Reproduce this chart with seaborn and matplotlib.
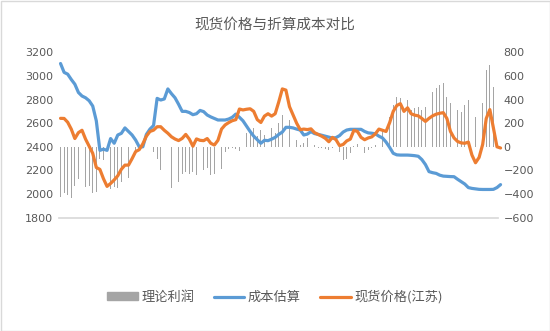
import numpy as np
import pandas as pd
import matplotlib
matplotlib.use("Agg")
import matplotlib.pyplot as plt
import matplotlib.dates as mdates
from matplotlib.patches import Rectangle
from matplotlib.lines import Line2D
import seaborn as sns

# Weekly series
start_date = "2023-03-17"
cost_estimate = [
    3105, 3030, 3015, 2970, 2930, 2860, 2830, 2815, 2790, 2745,
    2620, 2370, 2380, 2370, 2470, 2430, 2500, 2514, 2560, 2530,
    2500, 2457, 2400, 2400, 2505, 2550, 2580, 2810, 2796, 2805,
    2890, 2850, 2815, 2760, 2700, 2700, 2690, 2672, 2680, 2708,
    2698, 2669, 2653, 2640, 2627, 2627, 2627, 2635, 2650, 2677,
    2650, 2620, 2575, 2530, 2490, 2460, 2430, 2455, 2452, 2465,
    2480, 2505, 2525, 2565, 2565, 2560, 2550, 2542, 2500, 2508,
    2528, 2512, 2505, 2498, 2490, 2482, 2474, 2478, 2495, 2525,
    2542, 2548, 2548, 2548, 2548, 2530, 2518, 2515, 2510, 2490,
    2475, 2440, 2395, 2345, 2332, 2330, 2330, 2330, 2328, 2325,
    2320, 2292, 2250, 2190, 2181, 2175, 2160, 2152, 2150, 2148,
    2147, 2125, 2105, 2085, 2055, 2048, 2044, 2040, 2039, 2039,
    2039, 2040, 2055, 2080,
]
spot_price = [
    2641, 2640, 2608, 2550, 2470, 2520, 2540, 2465, 2405, 2345,
    2225, 2209, 2130, 2065, 2090, 2120, 2155, 2210, 2245, 2245,
    2300, 2360, 2376, 2425, 2490, 2530, 2541, 2570, 2570, 2540,
    2515, 2485, 2466, 2453, 2471, 2505, 2465, 2405, 2467, 2455,
    2452, 2470, 2430, 2415, 2455, 2550, 2585, 2605, 2621, 2630,
    2720, 2712, 2718, 2722, 2700, 2630, 2606, 2660, 2680, 2660,
    2680, 2780, 2890, 2880, 2740, 2670, 2600, 2545, 2550, 2546,
    2552, 2520, 2505, 2490, 2472, 2443, 2480, 2460, 2410, 2420,
    2450, 2465, 2540, 2530, 2480, 2460, 2475, 2484, 2510, 2550,
    2540, 2530, 2605, 2700, 2750, 2765, 2700, 2730, 2680, 2668,
    2662, 2640, 2615, 2641, 2662, 2676, 2684, 2689, 2640, 2530,
    2475, 2445, 2433, 2430, 2440, 2330, 2265, 2310, 2420, 2640,
    2715, 2560, 2400, 2390,
]
theory_profit = [
    -423, -395, -409, -437, -330, -270, -367, -340, -330, -395,
    -381, -100, -113, -290, -353, -339, -350, -300, -310, -268,
    -200, -56, -28, -6, 0, 0, -40, -99, -198, 0,
    0, -345, -320, -300, -230, -212, -230, -210, -240, -210,
    -198, -180, -240, -230, -190, -184, -45, -20, -8, -20,
    -37, 75, 113, 141, 160, 95, 141, 100, 130, 160,
    120, 200, 268, 282, 226, 155, 56, 14, 30, 71,
    50, 14, -6, -14, -20, -28, -14, 14, -42, -113,
    -99, -56, 10, 28, -14, -56, -28, -14, 14, 42,
    141, 169, 254, 353, 423, 409, 310, 400, 310, 325,
    339, 310, 339, 423, 466, 494, 522, 536, 423, 367,
    310, 310, 296, 353, 400, 296, 254, 282, 367, 649,
    692, 508, 339, 310,
]

title_text = "现货价格与折算成本对比"
series_names = ["理论利润", "成本估算", "现货价格(江苏)"]
left_ticks = [1800, 2000, 2200, 2400, 2600, 2800, 3000, 3200]
right_ticks = [-600, -400, -200, 0, 200, 400, 600, 800]
x_tick_dates = ["2023-03-14", "2023-06-14", "2023-09-14", "2023-12-14",
                "2024-03-14", "2024-06-14", "2024-09-14", "2024-12-14",
                "2025-03-14", "2025-06-14"]

dates = pd.date_range(start_date, periods=len(cost_estimate), freq="7D")
df = pd.DataFrame({
    "date": dates,
    "cost": cost_estimate,
    "spot": spot_price,
    "profit": theory_profit,
})

sns.set_theme(style="white")
plt.rcParams["font.family"] = ["DejaVu Sans", "Noto Sans CJK SC"]

text_color = "#595959"
grey_bar = "#a5a5a5"
blue = "#5b9bd5"
orange = "#ed7d31"

fig = plt.figure(figsize=(5.5, 3.31), dpi=100)
fig.patch.set_facecolor("white")
ax_bar = fig.add_axes([59 / 550, 1 - 217.7 / 331, (498 - 59) / 550, (217.7 - 52.3) / 331])
ax_line = ax_bar.twinx()

# Profit bars on the secondary (right) scale, drawn underneath the lines
ax_bar.bar(df["date"], df["profit"], width=1.6, color=grey_bar, linewidth=0)
ax_bar.set_ylim(-600, 800)
ax_bar.set_yticks(right_ticks)
ax_bar.yaxis.tick_right()
ax_bar.yaxis.set_label_position("right")

# Price lines on the primary (left) scale
sns.lineplot(data=df, x="date", y="cost", ax=ax_line, color=blue, linewidth=2.3)
sns.lineplot(data=df, x="date", y="spot", ax=ax_line, color=orange, linewidth=2.3)
for ln in ax_line.lines:
    ln.set_clip_on(False)
ax_line.set_ylim(1800, 3200)
ax_line.set_yticks(left_ticks)
ax_line.yaxis.tick_left()
ax_line.yaxis.set_label_position("left")
ax_line.set_ylabel("")
ax_line.set_xlabel("")

xt = pd.to_datetime(x_tick_dates)
for a in (ax_bar, ax_line):
    a.set_xlim(pd.Timestamp("2023-03-14"), pd.Timestamp("2025-07-20"))
    for s in a.spines.values():
        s.set_visible(False)
    a.grid(False)
    a.tick_params(axis="y", length=0, labelsize=8, colors=text_color, pad=4)
ax_line.spines["bottom"].set_visible(True)
ax_line.spines["bottom"].set_color("#d9d9d9")
ax_line.set_xticks(xt)
ax_line.set_xticklabels([f"{d.year}/{d.month}/{d.day}" for d in xt],
                        rotation=45, ha="right", rotation_mode="anchor")
ax_line.tick_params(axis="x", length=4, labelsize=8, pad=3,
                    direction="out", bottom=True, colors="#d9d9d9")
for lbl in ax_line.get_xticklabels():
    lbl.set_color(text_color)
ax_bar.tick_params(axis="x", bottom=False, labelbottom=False)

fig.text(0.5, 1 - 25 / 331, title_text, ha="center", va="center",
         fontsize=10.5, color=text_color, family=["Noto Sans CJK SC"])

handles = [
    Rectangle((0, 0), 1, 1, color=grey_bar),
    Line2D([], [], color=blue, linewidth=2.3),
    Line2D([], [], color=orange, linewidth=2.3),
]
leg = fig.legend(handles, series_names, loc="center", ncol=3,
                 bbox_to_anchor=(0.5, 1 - 297 / 331), frameon=False,
                 prop={"family": ["Noto Sans CJK SC"], "size": 9.5},
                 handlelength=2.3, handleheight=0.5, handletextpad=0.25,
                 columnspacing=1.5)
for t in leg.get_texts():
    t.set_color(text_color)

fig.patches.append(Rectangle((0.5 / 550, 0.5 / 331), 549 / 550, 330 / 331,
                             transform=fig.transFigure, fill=False,
                             edgecolor="#d9d9d9", linewidth=1.0))

fig.savefig("out.png", dpi=100, facecolor="white")
